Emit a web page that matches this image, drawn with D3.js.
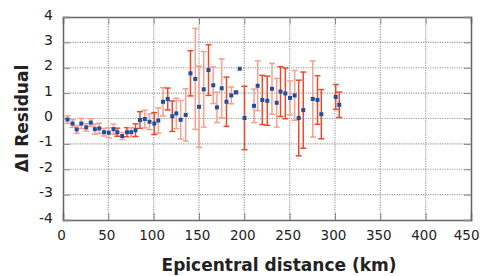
<!DOCTYPE html>
<html lang="en">
<head>
<meta charset="UTF-8">
<title>Intensity residual vs epicentral distance</title>
<script src="https://d3js.org/d3.v7.min.js"></script>
<style>
  body { margin: 0; background: #fff; }
  text { font-family: "DejaVu Sans", Verdana, sans-serif; fill: #222; }
</style>
</head>
<body>
<svg width="480" height="276"></svg>
<script>
// data
const distance = [5, 10.5, 15.1, 20.2, 25.6, 30.7, 35.1, 40, 45.2, 50.4, 55.7, 59.9, 65.3, 70.6, 75.3, 80,
  84.9, 90.2, 95.4, 100.7, 105.1, 110.3, 115.5, 120.5, 125, 129.8, 135.3, 140.6, 145.9, 150, 155.2, 160.5,
  165.7, 169.8, 175, 180.3, 185.6, 190.8, 194.9, 200.2, 210.7, 214.7, 219.8, 225.3, 230.5, 235.7, 239.9,
  245.2, 250.4, 255.5, 260, 265, 275.5, 280.7, 284.9, 300.8, 304.7];
const residual = [-0.04, -0.2, -0.43, -0.2, -0.35, -0.16, -0.42, -0.39, -0.54, -0.56, -0.42, -0.54, -0.69, -0.54, -0.54, -0.46,
  -0.06, -0.02, -0.13, -0.2, -0.08, 0.66, 0.77, 0.09, 0.2, -0.05, 0.14, 1.78, 1.56, 0.46, 1.15, 1.91,
  1.31, 0.44, 1.19, 0.66, 0.91, 1.03, 1.96, 0.02, 0.5, 1.29, 0.73, 0.7, 1.17, 0.62, 1.06,
  0.99, 0.81, 0.91, 0.02, 0.33, 0.77, 0.73, 0.17, 0.85, 0.54];
const errorSize = [0.15, 0.15, 0.15, 0.2, 0.15, 0.15, 0.2, 0.2, 0.15, 0.2, 0.2, 0.16, 0.14, 0.18, 0.18, 0.25,
  0.33, 0.35, 0.31, 0.43, 0.5, 0.56, 0.43, 0.6, 0.6, 0.76, 1.03, 0.89, 1.99, 1.6, 1.49, 1.0,
  0.72, 0.6, 1.16, 0.97, 0.33, 0.05, 0, 1.25, 0.66, 0.98, 0.97, 0.97, 1.0, 0.96, 0.98,
  1.0, 0.67, 0.98, 1.49, 1.5, 1.5, 0.96, 0.97, 0.49, 0.5];
// 0 = strong bar colour, 1 = pale bar colour
const barShade = [1, 1, 1, 1, 1, 1, 1, 1, 1, 1, 1, 0, 1, 0, 1, 0,
  0, 1, 1, 0, 1, 1, 0, 0, 1, 1, 1, 0, 1, 1, 1, 0,
  1, 1, 1, 0, 1, 1, 1, 0, 1, 1, 0, 0, 1, 1, 0,
  0, 1, 1, 0, 0, 1, 0, 0, 0, 0];
const xTicks = [0, 50, 100, 150, 200, 250, 300, 350, 400, 450];
const yTicks = [-4, -3, -2, -1, 0, 1, 2, 3, 4];

const svg = d3.select("svg");
const margin = {top: 17, right: 9, bottom: 56, left: 63};
const width = 480, height = 276;

const x = d3.scaleLinear().domain([0, 450]).range([margin.left, width - margin.right]);
const y = d3.scaleLinear().domain([-4, 4]).range([height - margin.bottom, margin.top]);

const points = distance.map((d, i) => ({d: d, r: residual[i], e: errorSize[i], s: barShade[i]}));

// dotted grid
svg.append("g").selectAll("line").data(xTicks.slice(1, -1)).enter().append("line")
  .attr("x1", d => x(d)).attr("x2", d => x(d))
  .attr("y1", y(4)).attr("y2", y(-4))
  .attr("stroke", "#9a9a9a").attr("stroke-width", 1.2).attr("stroke-dasharray", "1.2,1.2");
svg.append("g").selectAll("line").data(yTicks.slice(1, -1)).enter().append("line")
  .attr("x1", x(0)).attr("x2", x(450))
  .attr("y1", d => y(d)).attr("y2", d => y(d))
  .attr("stroke", "#9a9a9a").attr("stroke-width", 1.2).attr("stroke-dasharray", "1.2,1.2");

// axes with inner ticks on all four sides
const tickLen = 7;
const plain = d => String(d); // hyphen minus, like the original
svg.append("g")
  .attr("transform", `translate(0,${y(-4)})`)
  .call(d3.axisBottom(x).tickValues(xTicks).tickSize(-tickLen).tickPadding(10).tickFormat(plain))
  .call(g => g.selectAll("text").attr("font-size", 13.5).attr("fill", "#222").attr("dx", -2))
  .call(g => g.selectAll("text").filter(d => d === 450).attr("text-anchor", "end").attr("dx", 8));
svg.append("g")
  .attr("transform", `translate(0,${y(4)})`)
  .call(d3.axisTop(x).tickValues(xTicks).tickSize(-tickLen).tickFormat(""));
svg.append("g")
  .attr("transform", `translate(${x(0)},0)`)
  .call(d3.axisLeft(y).tickValues(yTicks).tickSize(-tickLen).tickPadding(tickLen + 3).tickFormat(plain))
  .call(g => g.selectAll("text").attr("font-size", 14).attr("fill", "#222").attr("dy", "0.15em"));
svg.append("g")
  .attr("transform", `translate(${x(450)},0)`)
  .call(d3.axisRight(y).tickValues(yTicks).tickSize(-tickLen).tickFormat(""));
svg.selectAll(".domain").attr("stroke", "#666").attr("stroke-width", 1.5);
svg.selectAll(".tick line").attr("stroke", "#888");

// error bars
const barColor = ["#ec4a2c", "#f6a08e"];
const cap = 3;
const bars = svg.append("g").selectAll("g").data(points.filter(p => p.e > 0)).enter().append("g")
  .attr("stroke", p => barColor[p.s]).attr("stroke-width", 1.5);
bars.append("line")
  .attr("x1", p => x(p.d)).attr("x2", p => x(p.d))
  .attr("y1", p => y(p.r - p.e)).attr("y2", p => y(p.r + p.e));
bars.append("line")
  .attr("x1", p => x(p.d) - cap).attr("x2", p => x(p.d) + cap)
  .attr("y1", p => y(p.r + p.e)).attr("y2", p => y(p.r + p.e));
bars.append("line")
  .attr("x1", p => x(p.d) - cap).attr("x2", p => x(p.d) + cap)
  .attr("y1", p => y(p.r - p.e)).attr("y2", p => y(p.r - p.e));

// markers
svg.append("g").selectAll("rect").data(points).enter().append("rect")
  .attr("x", p => x(p.d) - 2).attr("y", p => y(p.r) - 2)
  .attr("width", 4).attr("height", 4)
  .attr("fill", "#1f4f9e");

// axis titles
svg.append("text")
  .attr("x", 279).attr("y", 271)
  .attr("text-anchor", "middle")
  .attr("font-size", 17).attr("font-weight", "bold")
  .text("Epicentral distance (km)");
svg.append("text")
  .attr("transform", `translate(28,${(y(4) + y(-4)) / 2}) rotate(-90)`)
  .attr("text-anchor", "middle")
  .attr("font-size", 17).attr("font-weight", "bold")
  .text("ΔI Residual");
</script>
</body>
</html>
